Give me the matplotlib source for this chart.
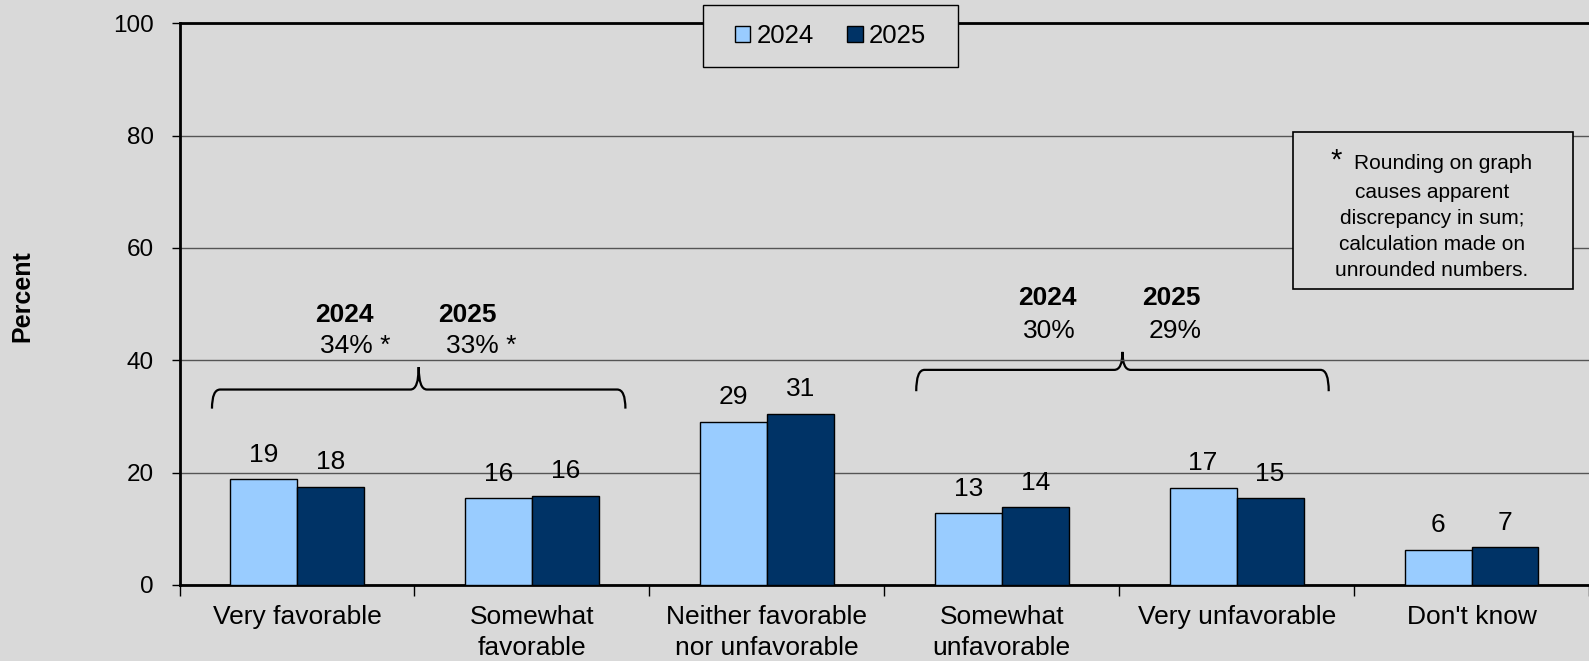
import numpy as np
import matplotlib.pyplot as plt
from matplotlib.path import Path
from matplotlib.patches import PathPatch, Rectangle

plt.rcParams['font.family'] = ['Liberation Sans', 'DejaVu Sans']

# Survey data (percent)
CATEGORIES = ["Very favorable", "Somewhat\nfavorable", "Neither favorable\nnor unfavorable",
              "Somewhat\nunfavorable", "Very unfavorable", "Don't know"]
VALUES_2024 = [18.8, 15.5, 29.1, 12.8, 17.3, 6.3]
VALUES_2025 = [17.5, 15.9, 30.5, 13.9, 15.5, 6.7]
LABELS_2024 = ["19", "16", "29", "13", "17", "6"]
LABELS_2025 = ["18", "16", "31", "14", "15", "7"]
SERIES = ["2024", "2025"]

# Combined totals shown over the braces
FAV_TOTALS = ["34% *", "33% *"]
UNFAV_TOTALS = ["30%", "29%"]

NOTE_LINES = ["Rounding on graph", "causes apparent", "discrepancy in sum;",
              "calculation made on", "unrounded numbers."]

BG = '#D9D9D9'
LIGHT = '#99CCFF'
DARK = '#003366'
FS = 19


def draw_brace(ax, x0, x1, y, drop, spike):
    """Curly brace opening downward, ends curl down, middle points up."""
    r = 0.035
    xm = (x0 + x1) / 2
    verts = [
        (x0, y - drop), (x0, y), (x0 + r, y),
        (xm - r, y), (xm, y), (xm, y + spike),
        (xm, y), (xm + r, y),
        (x1 - r, y), (x1, y), (x1, y - drop),
    ]
    codes = [Path.MOVETO, Path.CURVE3, Path.CURVE3,
             Path.LINETO, Path.CURVE3, Path.CURVE3,
             Path.CURVE3, Path.CURVE3,
             Path.LINETO, Path.CURVE3, Path.CURVE3]
    ax.add_patch(PathPatch(Path(verts, codes), fill=False, lw=1.6,
                           edgecolor='black', clip_on=False))


fig = plt.figure(figsize=(15.89, 6.61), dpi=100, facecolor=BG)
ax = fig.add_axes([0.113, 0.115, 0.887, 0.8497], facecolor=BG)

x = np.arange(len(CATEGORIES))
w = 0.285
b1 = ax.bar(x - w / 2, VALUES_2024, w, color=LIGHT, edgecolor='black', lw=1, label=SERIES[0], zorder=3)
b2 = ax.bar(x + w / 2, VALUES_2025, w, color=DARK, edgecolor='black', lw=1, label=SERIES[1], zorder=3)

for bars, labels in [(b1, LABELS_2024), (b2, LABELS_2025)]:
    for rect, lab in zip(bars, labels):
        ax.text(rect.get_x() + rect.get_width() / 2, rect.get_height() + 3.1, lab,
                ha='center', va='baseline', fontsize=FS)

ax.set_xlim(-0.5, len(CATEGORIES) - 0.5)
ax.set_ylim(0, 100)
ax.set_yticks(np.arange(0, 101, 20))
ax.tick_params(axis='y', labelsize=17.5, length=5.8, width=1, direction='out', pad=12.6)
ax.set_xticks(x)
ax.set_xticklabels(CATEGORIES, fontsize=FS, linespacing=1.35)
ax.tick_params(axis='x', which='major', length=0, pad=14.5)
ax.set_xticks(np.arange(-0.5, len(CATEGORIES)), minor=True)
ax.tick_params(axis='x', which='minor', length=8, width=1, direction='out')

ax.grid(axis='y', color='#555555', lw=1, zorder=0)
for s in ['left', 'bottom', 'top']:
    ax.spines[s].set_linewidth(2)
    ax.spines[s].set_color('black')
ax.spines['right'].set_visible(False)

# Braces with combined totals
draw_brace(ax, -0.362, 1.398, 34.8, 3.4, 4.0)
draw_brace(ax, 2.636, 4.392, 38.3, 3.8, 3.2)

ax.text(0.20, 46.8, SERIES[0], ha='center', va='baseline', fontsize=FS, fontweight='bold')
ax.text(0.724, 46.8, SERIES[1], ha='center', va='baseline', fontsize=FS, fontweight='bold')
ax.text(0.247, 41.3, FAV_TOTALS[0], ha='center', va='baseline', fontsize=FS)
ax.text(0.786, 41.3, FAV_TOTALS[1], ha='center', va='baseline', fontsize=FS)
ax.text(3.196, 49.85, SERIES[0], ha='center', va='baseline', fontsize=FS, fontweight='bold')
ax.text(3.723, 49.85, SERIES[1], ha='center', va='baseline', fontsize=FS, fontweight='bold')
ax.text(3.201, 44.0, UNFAV_TOTALS[0], ha='center', va='baseline', fontsize=FS)
ax.text(3.74, 44.0, UNFAV_TOTALS[1], ha='center', va='baseline', fontsize=FS)

# Legend (frame drawn separately)
fig.patches.append(Rectangle((0.4424, 0.899), 0.1605, 0.0938, transform=fig.transFigure,
                             facecolor=BG, edgecolor='black', lw=1, zorder=8))
leg = fig.legend(handles=[b1, b2], labels=SERIES, loc='center', ncol=2,
                 bbox_to_anchor=(0.5227, 0.945), fontsize=18.5, frameon=False,
                 handlelength=0.6, handleheight=0.6, handletextpad=0.25,
                 columnspacing=1.3, borderpad=0, borderaxespad=0)
leg.set_zorder(10)

# Note box
fig.patches.append(Rectangle((0.8137, 0.5628), 0.1763, 0.2375, transform=fig.transFigure,
                             facecolor=BG, edgecolor='black', lw=1.2, zorder=5))
fig.text(0.841, 0.7443, "*", fontsize=21, ha='center', va='baseline', zorder=6)
fig.text(0.908, 0.7534, NOTE_LINES[0], fontsize=15, ha='center', va='center', zorder=6)
for i, line in enumerate(NOTE_LINES[1:]):
    fig.text(0.901, 0.7095 - i * 0.0397, line, fontsize=15, ha='center', va='center', zorder=6)

fig.text(0.0142, 0.552, "Percent", rotation=90, fontsize=18, fontweight='bold',
         ha='center', va='center')

fig.savefig('out.png', dpi=100, facecolor=BG)
